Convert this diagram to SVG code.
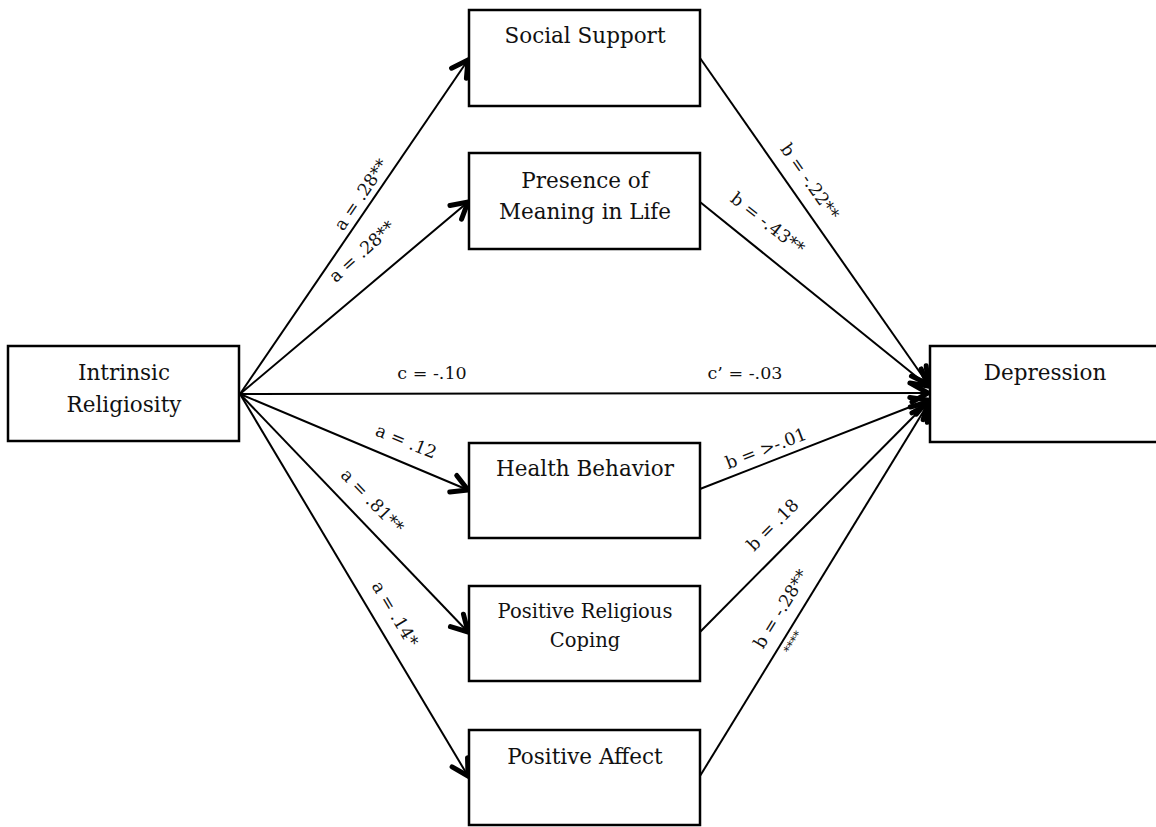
<svg xmlns="http://www.w3.org/2000/svg" width="1156" height="827" viewBox="0 0 1156 827">
<style>
.box{fill:#fff;stroke:#000;stroke-width:2.5}
.ln{stroke:#000;stroke-width:2;fill:none}
.nt{font-family:"DejaVu Serif","Liberation Serif",serif;font-size:21.5px;fill:#111;text-anchor:middle}
.lb{font-family:"DejaVu Serif","Liberation Serif",serif;font-size:17.5px;fill:#111;text-anchor:middle}
</style>
<defs>
<marker id="ah" markerUnits="userSpaceOnUse" markerWidth="30" markerHeight="30" refX="0" refY="0" viewBox="-22 -15 26 30" orient="auto">
<path d="M-16,-9 L0,0 L-16,9" fill="none" stroke="#000" stroke-width="5" stroke-linecap="round" stroke-linejoin="miter"/>
</marker>
</defs>
<rect width="1156" height="827" fill="#fff"/>
<g id="connectors">
<line class="ln" x1="240" y1="394" x2="468" y2="60" marker-end="url(#ah)"/>
<line class="ln" x1="240" y1="394" x2="468" y2="202" marker-end="url(#ah)"/>
<line class="ln" x1="240" y1="394" x2="928" y2="393" marker-end="url(#ah)"/>
<line class="ln" x1="240" y1="394" x2="468" y2="490" marker-end="url(#ah)"/>
<line class="ln" x1="240" y1="394" x2="468" y2="632" marker-end="url(#ah)"/>
<line class="ln" x1="240" y1="394" x2="468" y2="776" marker-end="url(#ah)"/>
<line class="ln" x1="700" y1="58" x2="928" y2="384" marker-end="url(#ah)"/>
<line class="ln" x1="700" y1="202" x2="928" y2="386" marker-end="url(#ah)"/>
<line class="ln" x1="700" y1="489" x2="928" y2="400" marker-end="url(#ah)"/>
<line class="ln" x1="700" y1="632" x2="928" y2="402" marker-end="url(#ah)"/>
<line class="ln" x1="700" y1="776" x2="928" y2="404" marker-end="url(#ah)"/>
<text class="lb" transform="translate(366,198) rotate(-56)">a = .28**</text>
<text class="lb" transform="translate(366,256) rotate(-42)">a = .28**</text>
<text class="lb" x="432" y="379">c = -.10</text>
<text class="lb" x="745" y="379">c’ = -.03</text>
<text class="lb" transform="translate(404,447) rotate(22)">a = .12</text>
<text class="lb" transform="translate(368,505) rotate(46)">a = .81**</text>
<text class="lb" transform="translate(390,617) rotate(59)">a = .14*</text>
<text class="lb" transform="translate(805,185) rotate(55)">b = -.22**</text>
<text class="lb" transform="translate(764,228) rotate(38)">b = -.43**</text>
<text class="lb" transform="translate(768,454) rotate(-21)">b = &gt;-.01</text>
<text class="lb" transform="translate(777,529) rotate(-45)">b = .18</text>
<text class="lb" transform="translate(786,612) rotate(-58.6)">b = -.28**</text>
<text font-family="DejaVu Serif, serif" font-size="12" fill="#111" text-anchor="middle" transform="translate(786,638) rotate(121.4)">****</text>
</g>
<g id="intrinsic"><rect class="box" x="8" y="346" width="231" height="95"/><text class="nt" x="124" y="380">Intrinsic</text><text class="nt" x="124" y="412">Religiosity</text></g>
<g id="social"><rect class="box" x="469" y="10" width="231" height="96"/><text class="nt" x="585" y="43">Social Support</text></g>
<g id="meaning"><rect class="box" x="469" y="153" width="231" height="96"/><text class="nt" x="585" y="188">Presence of</text><text class="nt" x="585" y="219">Meaning in Life</text></g>
<g id="health"><rect class="box" x="469" y="443" width="231" height="95"/><text class="nt" x="585" y="476">Health Behavior</text></g>
<g id="coping"><rect class="box" x="469" y="586" width="231" height="95"/><text class="nt" x="585" y="618" style="font-size:19.5px">Positive Religious</text><text class="nt" x="585" y="647" style="font-size:19.5px">Coping</text></g>
<g id="affect"><rect class="box" x="469" y="730" width="231" height="95"/><text class="nt" x="585" y="764">Positive Affect</text></g>
<g id="depression"><rect class="box" x="930" y="346" width="232" height="96"/><text class="nt" x="1045" y="380">Depression</text></g>
</svg>
